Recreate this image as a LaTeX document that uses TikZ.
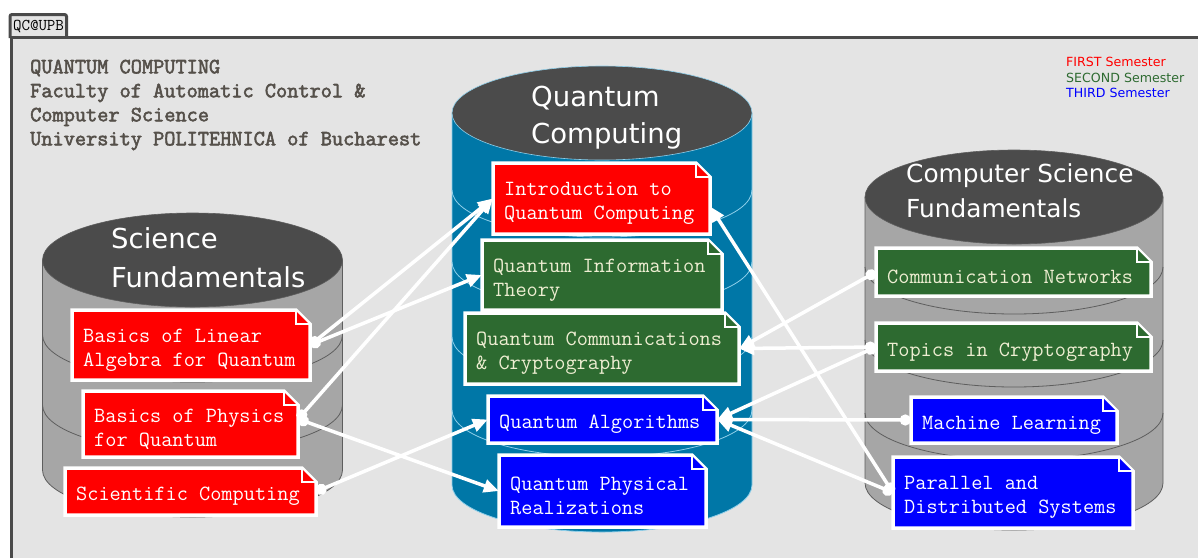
\documentclass[tikz,border=0pt]{standalone}
\usepackage{fontspec}
\usetikzlibrary{arrows.meta}
\newfontfamily\labelfont{DejaVu Sans}
\newfontfamily\headfont{Latin Modern Mono}[FakeBold=2.5]

\definecolor{pagegray}{HTML}{E4E4E4}
\definecolor{framegray}{HTML}{4A4A4A}
\definecolor{drumgray}{HTML}{A6A6A6}
\definecolor{drumline}{HTML}{5E5E5E}
\definecolor{drumtop}{HTML}{4B4B4B}
\definecolor{qblue}{HTML}{0077A7}
\definecolor{qline}{HTML}{8FCFEA}
\definecolor{semred}{HTML}{FF0000}
\definecolor{semgreen}{HTML}{2D6A30}
\definecolor{semblue}{HTML}{0000FF}
\definecolor{cream}{HTML}{EEEED2}
\definecolor{headtext}{HTML}{55504A}

% cylinder: centre x, top y, bottom y, x radius, y radius, body, lines, ring levels
\newcommand\drum[8]{%
  \filldraw[fill=#6, draw=#7, line width=0.8pt]
    ({#1-#4},#2) -- ({#1-#4},#3)
    arc[start angle=180, end angle=360, x radius=#4pt, y radius=#5pt]
    -- ({#1+#4},#2) -- cycle;
  \foreach \r in {#8}
    \draw[draw=#7, line width=0.8pt] ({#1-#4},\r)
      arc[start angle=180, end angle=360, x radius=#4pt, y radius=#5pt];
  \filldraw[fill=drumtop, draw=#7, line width=0.6pt] (#1,#2) ellipse[x radius=#4pt, y radius=#5pt];
}

% course card with a folded corner: name, x1, y1, x2, y2, fill, text colour, text
\newcommand\course[8]{%
  \filldraw[cardedge, fill=#6] (#2,#3) -- ({#4-14},#3) -- (#4,{#3+14}) -- (#4,#5) -- (#2,#5) -- cycle;
  \filldraw[draw=white, line width=1.3pt, fill=#6] ({#4-14},{#3+1}) -- ({#4-14},{#3+14}) -- ({#4-1},{#3+14});
  \pgfmathsetmacro\cardw{#4-#2}%
  \pgfmathsetmacro\cardh{#5-#3}%
  \node[inner sep=0pt, minimum width=\cardw pt, minimum height=\cardh pt]
    (#1) at ({(#2+#4)/2},{(#3+#5)/2}) {};
  \node[cardtext, text=#7, anchor=west] (#1-text) at ({#2+11},{(#3+#5)/2+5}) {#8};
}

\begin{document}
\begin{tikzpicture}[x=1pt, y=-1pt,
  cardedge/.style={draw=white, line width=3.5pt, line join=miter},
  cardtext/.style={inner sep=0pt, align=left, font=\ttfamily\fontsize{21.7}{24}\selectfont},
  drumtitle/.style={inner sep=0pt, align=left, anchor=north west, text=white},
  link/.style={draw=white, line width=3.5pt,
    {Circle[length=11pt]}-{Triangle[length=15pt, width=13pt]}},
]
\useasboundingbox (0,0) rectangle (1198,558);
\fill[white] (0,0) rectangle (1198,558);

% tab and frame
\filldraw[fill=pagegray, draw=framegray, line width=3pt, rounded corners=2pt]
  (10,38) -- (10,14.5) -- (66.5,14.5) -- (66.5,38);
\node[inner sep=0pt, font=\ttfamily\fontsize{16.5}{18}\selectfont, text=black]
  (tab) at (38.5,26.5) {QC@UPB};
\fill[pagegray] (10,36) rectangle (1198,558);
\draw[framegray, line width=3.5pt] (11.5,558) -- (11.5,37.5) -- (1198,37.5);

% heading
\node[inner sep=0pt, anchor=north west, align=left, text=headtext,
  font=\headfont\fontsize{21.7}{24}\selectfont]
  (heading) at (30,59.5) {QUANTUM COMPUTING\\Faculty of Automatic Control \&\\Computer Science\\University POLITEHNICA of Bucharest};

% legend
\node[inner sep=0pt, anchor=north west, align=left,
  font=\labelfont\fontsize{12.6}{15.5}\selectfont]
  (legend) at (1066,57) {\textcolor{semred}{FIRST Semester}\\\textcolor{semgreen}{SECOND Semester}\\\textcolor{semblue}{THIRD Semester}};

% the three cylinders
\drum{192.5}{260}{470}{150}{47}{drumgray}{drumline}{335,405}
\drum{602}{113}{485}{150}{47}{qblue}{qline}{190,262,337,410}
\drum{1014}{197}{483}{149}{47}{drumgray}{drumline}{267,340,413}

\node[drumtitle, font=\labelfont\fontsize{27.5}{39}\selectfont] (sf-title) at (111,227) {Science\\Fundamentals};
\node[drumtitle, font=\labelfont\fontsize{27.5}{36.5}\selectfont] (qc-title) at (531,86) {Quantum\\Computing};
\node[drumtitle, font=\labelfont\fontsize{24.8}{35}\selectfont] (cs-title) at (906,163) {Computer Science\\Fundamentals};

% courses
\course{la}{72}{310}{310}{380}{semred}{white}{Basics of Linear\\Algebra for Quantum}
\course{phys}{83}{391}{298}{457}{semred}{white}{Basics of Physics\\for Quantum}
\course{sci}{65}{468}{316}{515}{semred}{white}{Scientific Computing}
\course{intro}{493}{163}{710}{234}{semred}{white}{Introduction to\\Quantum Computing}
\course{qit}{482}{240}{722}{310}{semgreen}{cream}{Quantum Information\\Theory}
\course{qcc}{465}{313}{739}{384}{semgreen}{cream}{Quantum Communications\\\& Cryptography}
\course{qalg}{488}{396}{717}{443}{semblue}{white}{Quantum Algorithms}
\course{qpr}{499}{455}{706}{527}{semblue}{white}{Quantum Physical\\Realizations}
\course{cn}{876}{248}{1151}{296}{semgreen}{cream}{Communication Networks}
\course{tic}{876}{323}{1151}{371}{semgreen}{cream}{Topics in Cryptography}
\course{ml}{911}{397}{1117}{443}{semblue}{white}{Machine Learning}
\course{pds}{893}{457}{1133}{528}{semblue}{white}{Parallel and\\Distributed Systems}

% prerequisites
\draw[link] (la.east) -- (intro.west);
\draw[link] (la.east) -- (qit.west);
\draw[link] ([yshift=5pt]phys.east) -- (intro.west);
\draw[link] ([yshift=5pt]phys.east) -- (qpr.west);
\draw[link] (sci.east) -- (qalg.west);
\draw[link] (cn.west) -- (qcc.east);
\draw[link] (tic.west) -- (qcc.east);
\draw[link] (tic.west) -- (qalg.east);
\draw[link] (ml.west) -- (qalg.east);
\draw[link] (pds.west) -- (qalg.east);
\draw[link] (pds.west) -- ([yshift=-8pt]intro.east);
\end{tikzpicture}
\end{document}
